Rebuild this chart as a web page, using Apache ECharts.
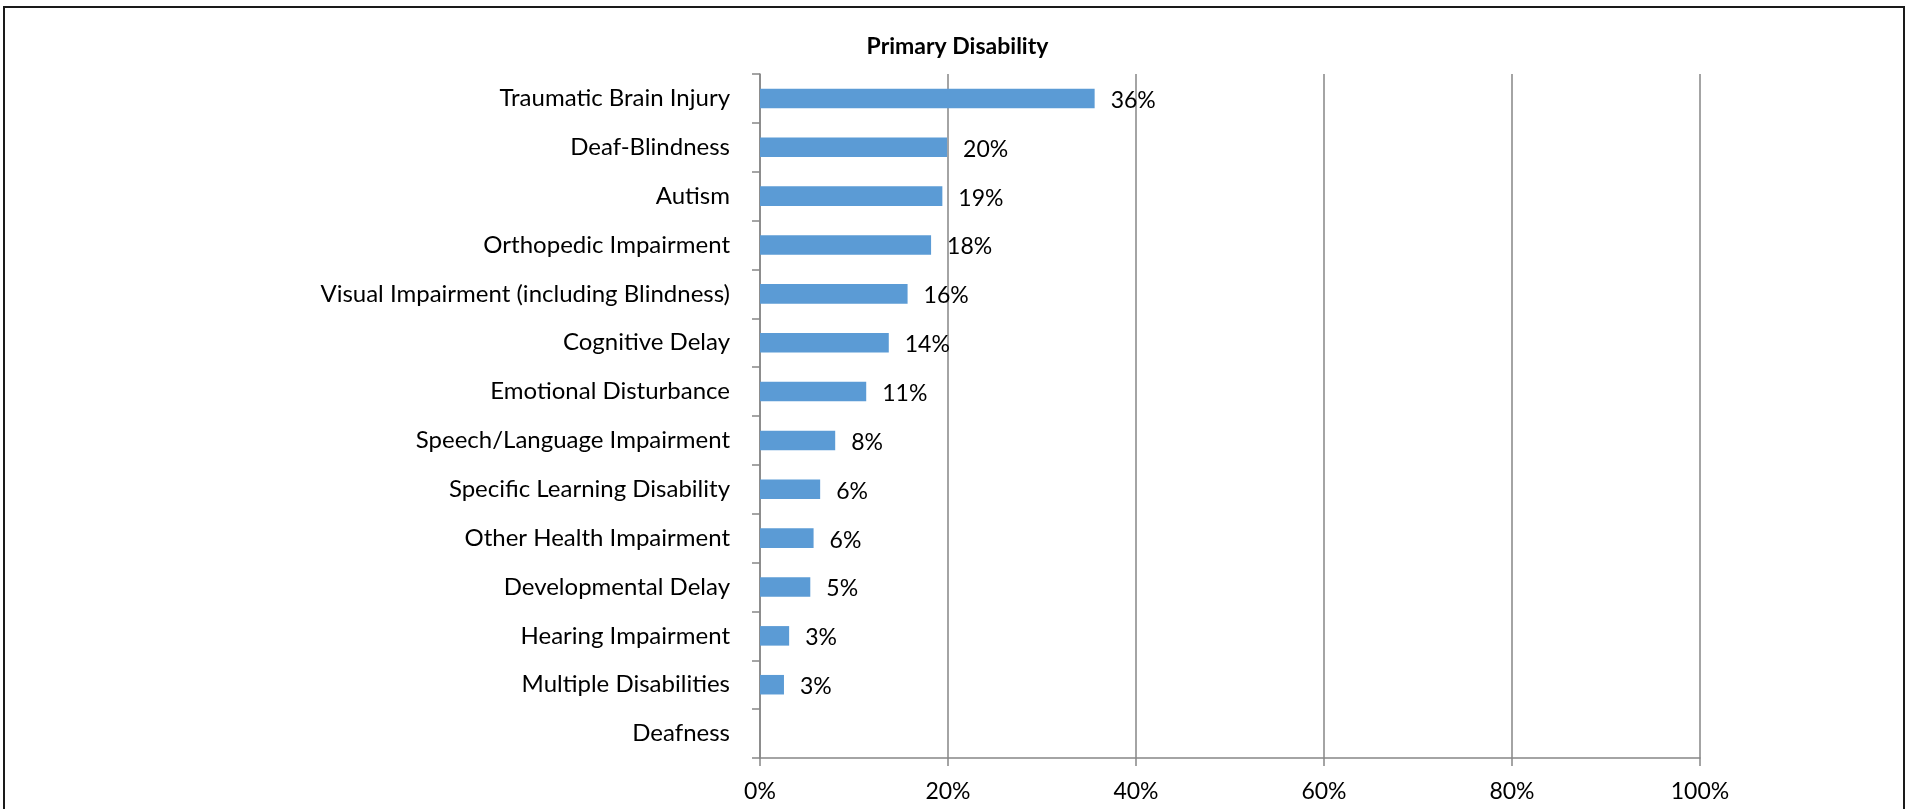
<!DOCTYPE html>
<html>
<head>
<meta charset="utf-8">
<script src="https://cdn.jsdelivr.net/npm/echarts@6/dist/echarts.min.js"></script>
<style>
  html, body { margin: 0; padding: 0; background: #fff; overflow: hidden; }
  #frame { position: absolute; left: 3px; top: 6px; width: 1902px; height: 820px; border: 2px solid #1a1a1a; box-sizing: border-box; }
  #chart { position: absolute; left: 0; top: 0; width: 1915px; height: 809px; }
</style>
</head>
<body>
<div id="frame"></div>
<div id="chart"></div>
<script>
// categories, top to bottom
const categories = [
    'Traumatic Brain Injury', 'Deaf-Blindness', 'Autism', 'Orthopedic Impairment',
    'Visual Impairment (including Blindness)', 'Cognitive Delay', 'Emotional Disturbance',
    'Speech/Language Impairment', 'Specific Learning Disability', 'Other Health Impairment',
    'Developmental Delay', 'Hearing Impairment', 'Multiple Disabilities', 'Deafness'
];
// share of students
const shares = [0.356, 0.199, 0.194, 0.182, 0.157, 0.137, 0.113, 0.080, 0.064, 0.057, 0.0535, 0.031, 0.0255, 0];
const xTicks = [0, 0.2, 0.4, 0.6, 0.8, 1];

const FONT = 'Lato';
const chart = echarts.init(document.getElementById('chart'));

chart.setOption({
    backgroundColor: 'transparent',
    animation: false,
    title: {
        text: 'Primary Disability',
        left: 'center',
        top: 30,
        textStyle: { fontFamily: FONT, fontWeight: 'bold', fontSize: 23, color: '#000' }
    },
    grid: { left: 760, right: 215, top: 74, bottom: 51, containLabel: false },
    xAxis: {
        type: 'value',
        min: xTicks[0],
        max: xTicks[xTicks.length - 1],
        interval: 0.2,
        axisLine: { show: true, lineStyle: { color: '#868686', width: 1.5 } },
        axisTick: { show: true, length: 8, lineStyle: { color: '#868686', width: 1.5 } },
        splitLine: { show: true, lineStyle: { color: '#868686', width: 1.5 } },
        axisLabel: {
            margin: 22,
            fontFamily: FONT, fontSize: 23, color: '#000',
            formatter: v => Math.round(v * 100) + '%'
        }
    },
    yAxis: {
        type: 'category',
        inverse: true,
        data: categories,
        axisLine: { show: true, lineStyle: { color: '#868686', width: 1.5 } },
        axisTick: { show: true, length: 8, lineStyle: { color: '#868686', width: 1.5 } },
        axisLabel: { margin: 30, fontFamily: FONT, fontSize: 24, color: '#000' }
    },
    series: [{
        type: 'bar',
        data: shares,
        barWidth: '40%',
        itemStyle: { color: '#5B9BD5' },
        label: {
            show: true,
            position: 'right',
            distance: 16,
            offset: [0, 2],
            fontFamily: FONT, fontSize: 23, color: '#000',
            formatter: p => p.value > 0 ? Math.round(p.value * 100) + '%' : ''
        }
    }]
});
</script>
</body>
</html>
